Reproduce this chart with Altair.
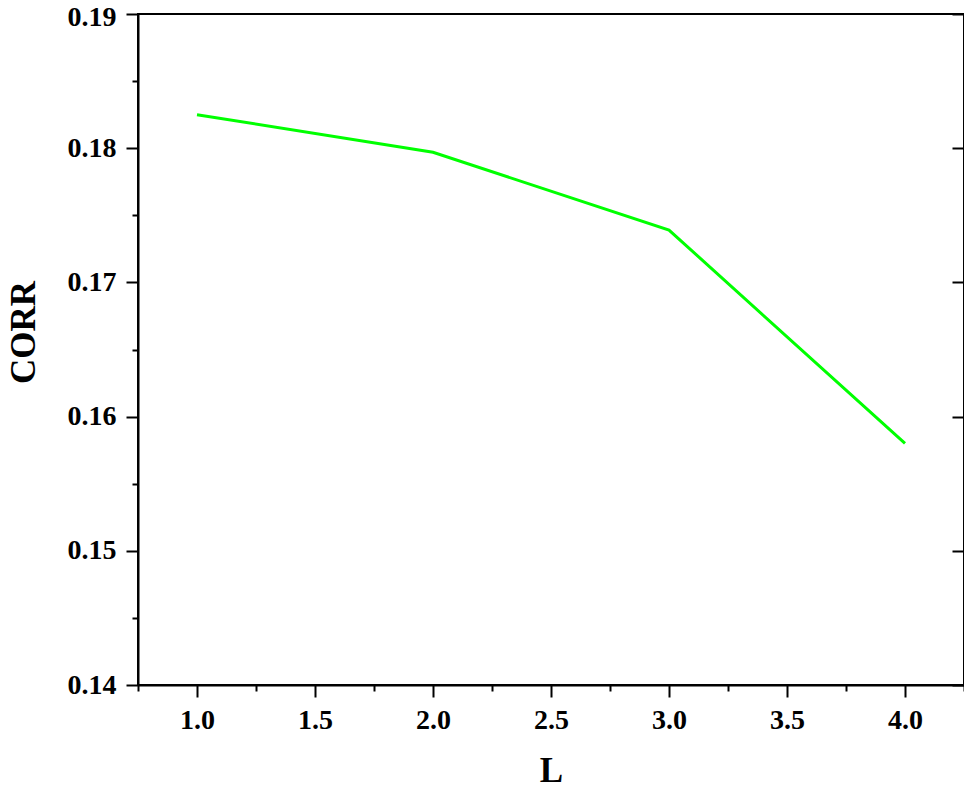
import altair as alt
import pandas as pd

L_values = [1.0, 2.0, 3.0, 4.0]
corr_values = [0.1825, 0.1797, 0.1739, 0.1580]

x_ticks = [0.75 + 0.25 * i for i in range(15)]
y_ticks = [round(0.14 + 0.005 * i, 3) for i in range(11)]
y_major = [0.14, 0.15, 0.16, 0.17, 0.18, 0.19]

df = pd.DataFrame({"L": L_values, "CORR": corr_values})

FONT = "Liberation Serif"
x_major_test = "abs(datum.value*2 - round(datum.value*2)) < 0.001"
y_major_test = "abs(datum.value*100 - round(datum.value*100)) < 0.001"

W, H = 826, 671

x_scale = alt.Scale(domain=[0.75, 4.25], nice=False, zero=False)
y_scale = alt.Scale(domain=[0.14, 0.19], nice=False, zero=False)

x_axis = alt.Axis(
    title="L", values=x_ticks,
    labelExpr=f"{x_major_test} ? format(datum.value, '.1f') : ''",
    tickSize={"condition": {"test": x_major_test, "value": 12}, "value": 6},
    labelPadding=9, labelOverlap=False, labelFlush=False,
    titleX=W / 2, titleY=96, titleBaseline="alphabetic",
    titleAnchor="middle", titleAlign="center",
)

main = alt.Chart(df).mark_line(color="#00FF00", strokeWidth=3).encode(
    x=alt.X("L:Q", scale=x_scale, axis=x_axis),
    y=alt.Y("CORR:Q", scale=y_scale,
            axis=alt.Axis(
                title="CORR", values=y_ticks,
                labelExpr=f"{y_major_test} ? format(datum.value, '.2f') : ''",
                tickSize={"condition": {"test": y_major_test, "value": 12}, "value": 6},
                labelOffset={"condition": {"test": "datum.value > 0.1895", "value": 3}, "value": 0},
                labelPadding=10, labelOverlap=False, labelFlush=False,
                titleAngle=-90, titleX=-104, titleY=318, titleBaseline="alphabetic",
                titleAlign="center",
            )),
)

right = alt.Chart(df).mark_line(strokeOpacity=0).encode(
    x=alt.X("L:Q", scale=x_scale, axis=x_axis),
    y=alt.Y("CORR:Q", scale=y_scale,
            axis=alt.Axis(orient="right", values=y_major, labels=False, title=None,
                          domain=False, tickSize=12, offset=-12)),
)

chart = alt.layer(main, right).resolve_scale(y="independent").properties(
    width=W, height=H,
    autosize=alt.AutoSizeParams(type="none"),
    padding={"left": 130, "top": 6, "right": 0, "bottom": 102},
).configure_view(
    stroke="black", strokeWidth=2
).configure_axis(
    grid=False,
    domainColor="black", domainWidth=2,
    tickColor="black", tickWidth=2,
    labelFont=FONT, labelFontSize=28, labelFontWeight="bold", labelColor="black",
    titleFont=FONT, titleFontSize=35, titleFontWeight="bold", titleColor="black",
)

chart.save("out.html", embed_options={"renderer": "svg", "actions": False})
